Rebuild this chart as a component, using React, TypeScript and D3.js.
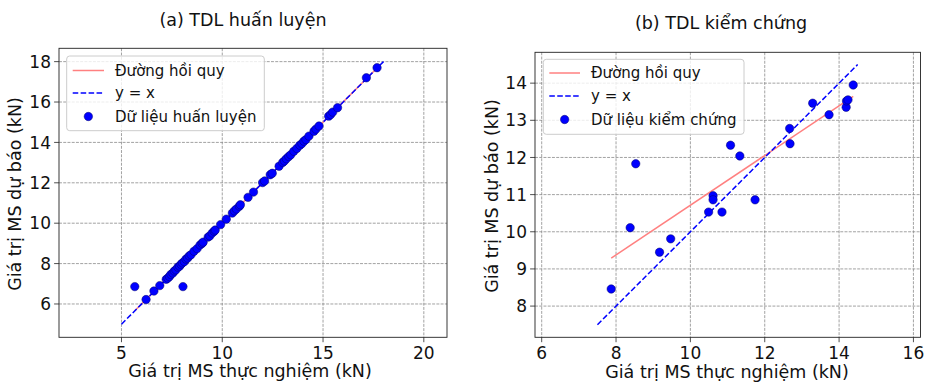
import React from "react";
import * as d3 from "d3";

// ---------- data ----------
const trainActual = [
  5.66, 6.22, 6.61, 6.9, 7.22, 7.3, 7.38, 7.45, 7.55, 7.62, 7.7, 7.8, 7.88, 7.95, 8.05,
  8.02, 8.12, 8.2, 8.28, 8.36, 8.45, 8.6, 8.75, 8.9, 9.0, 9.05, 9.3, 9.38, 9.5, 9.6,
  9.65, 9.92, 10.2, 10.5, 10.6, 10.7, 10.85, 10.9, 11.28, 11.55, 12.0, 12.1, 12.38,
  12.48, 12.82, 13.0, 13.08, 13.18, 13.3, 13.4, 13.55, 13.7, 13.85, 13.95, 14.05,
  14.15, 14.3, 14.55, 14.65, 14.8, 15.28, 15.38, 15.48, 15.72, 17.15, 17.68,
];
const trainPredicted = [
  6.86, 6.22, 6.64, 6.91, 7.22, 7.28, 7.36, 7.46, 7.53, 7.63, 7.69, 7.82, 7.87, 7.96, 6.86,
  8.03, 8.1, 8.22, 8.27, 8.38, 8.44, 8.61, 8.74, 8.92, 9.0, 9.06, 9.31, 9.37, 9.51, 9.6,
  9.66, 9.93, 10.2, 10.5, 10.61, 10.7, 10.84, 10.91, 11.28, 11.54, 12.01, 12.09, 12.4,
  12.47, 12.82, 13.01, 13.08, 13.19, 13.3, 13.39, 13.56, 13.7, 13.86, 13.94, 14.06,
  14.14, 14.31, 14.55, 14.66, 14.81, 15.3, 15.38, 15.5, 15.72, 17.2, 17.7,
];
const testActual = [
  7.87, 8.38, 8.53, 9.17, 9.47, 10.49, 10.61, 10.61, 10.85, 11.08, 11.33, 11.74,
  12.67, 12.68, 13.29, 13.73, 14.19, 14.2, 14.24, 14.38,
];
const testPredicted = [
  8.46, 10.11, 11.83, 9.45, 9.81, 10.53, 10.97, 10.86, 10.53, 12.33, 12.04, 10.86,
  12.78, 12.37, 13.46, 13.15, 13.35, 13.52, 13.55, 13.95,
];
// regression coefficients [slope, intercept]
const trainFit = [1.0, 0.0];
const testFit = [0.669, 4.025];
// y = x line extents
const trainIdentity = [5, 18];
const testIdentity = [7.5, 14.5];
// ticks
const trainXTicks = [5, 10, 15, 20];
const trainYTicks = [6, 8, 10, 12, 14, 16, 18];
const testXTicks = [6, 8, 10, 12, 14, 16];
const testYTicks = [8, 9, 10, 11, 12, 13, 14];
// texts
const titles = ["(a) TDL huấn luyện", "(b) TDL kiểm chứng"];
const legendLabels = ["Đường hồi quy", "y = x"];
const scatterLabels = ["Dữ liệu huấn luyện", "Dữ liệu kiểm chứng"];
const xLabel = "Giá trị MS thực nghiệm (kN)";
const yLabel = "Giá trị MS dự báo (kN)";

const FONT = "DejaVu Sans, Verdana, sans-serif";
const RED = "#ff8080";
const BLUE = "#0000ff";

type PanelProps = {
  box: { left: number; right: number; top: number; bottom: number };
  xDomain: [number, number];
  yDomain: [number, number];
  xTicks: number[];
  yTicks: number[];
  xs: number[];
  ys: number[];
  fit: number[];
  identity: number[];
  title: string;
  titlePos: [number, number];
  xLabelPos: [number, number];
  yLabelPos: [number, number];
  scatterLabel: string;
  legend: { x: number; y: number; w: number; h: number; rows: number[]; handle: [number, number]; textX: number };
  clipId: string;
};

function Panel(p: PanelProps) {
  const { box } = p;
  const x = d3.scaleLinear().domain(p.xDomain).range([box.left, box.right]);
  const y = d3.scaleLinear().domain(p.yDomain).range([box.bottom, box.top]);
  const line = d3
    .line<number[]>()
    .x((d) => x(d[0]))
    .y((d) => y(d[1]));
  const xmin = d3.min(p.xs) as number;
  const xmax = d3.max(p.xs) as number;
  const fitPts = [xmin, xmax].map((v) => [v, p.fit[0] * v + p.fit[1]]);
  const idPts = p.identity.map((v) => [v, v]);
  const lg = p.legend;
  return (
    <g>
      <defs>
        <clipPath id={p.clipId}>
          <rect x={box.left} y={box.top} width={box.right - box.left} height={box.bottom - box.top} />
        </clipPath>
      </defs>
      <rect x={box.left} y={box.top} width={box.right - box.left} height={box.bottom - box.top} fill="white" />
      {/* grid */}
      <g stroke="#7f7f7f" strokeWidth={0.8} strokeDasharray="2.96,1.28" opacity={0.9}>
        {p.xTicks.map((t) => (
          <line key={"gx" + t} x1={x(t)} x2={x(t)} y1={box.top} y2={box.bottom} />
        ))}
        {p.yTicks.map((t) => (
          <line key={"gy" + t} x1={box.left} x2={box.right} y1={y(t)} y2={y(t)} />
        ))}
      </g>
      <g clipPath={`url(#${p.clipId})`}>
        <path d={line(fitPts) || ""} stroke={RED} strokeWidth={1.5} fill="none" />
        <path d={line(idPts) || ""} stroke={BLUE} strokeWidth={1.5} strokeDasharray="5.55,2.4" fill="none" />
        {p.xs.map((v, i) => (
          <circle key={i} cx={x(v)} cy={y(p.ys[i])} r={4.2} fill={BLUE} stroke="#00006a" strokeWidth={0.5} />
        ))}
      </g>
      {/* frame */}
      <rect
        x={box.left}
        y={box.top}
        width={box.right - box.left}
        height={box.bottom - box.top}
        fill="none"
        stroke="#222"
        strokeWidth={0.9}
      />
      {/* ticks */}
      <g fontFamily={FONT} fontSize={17} fill="#111">
        {p.xTicks.map((t) => (
          <g key={"tx" + t}>
            <line x1={x(t)} x2={x(t)} y1={box.bottom} y2={box.bottom + 4.9} stroke="#222" strokeWidth={0.8} />
            <text x={x(t)} y={box.bottom + 21.5} textAnchor="middle">
              {t}
            </text>
          </g>
        ))}
        {p.yTicks.map((t) => (
          <g key={"ty" + t}>
            <line x1={box.left - 4.9} x2={box.left} y1={y(t)} y2={y(t)} stroke="#222" strokeWidth={0.8} />
            <text x={box.left - 8} y={y(t) + 6.1} textAnchor="end">
              {t}
            </text>
          </g>
        ))}
      </g>
      {/* labels */}
      <text x={p.titlePos[0]} y={p.titlePos[1]} textAnchor="middle" fontFamily={FONT} fontSize={17.5} fill="#111">
        {p.title}
      </text>
      <text x={p.xLabelPos[0]} y={p.xLabelPos[1]} textAnchor="middle" fontFamily={FONT} fontSize={17.5} fill="#111">
        {xLabel}
      </text>
      <text
        transform={`translate(${p.yLabelPos[0]},${p.yLabelPos[1]}) rotate(-90)`}
        textAnchor="middle"
        fontFamily={FONT}
        fontSize={17.5}
        fill="#111"
      >
        {yLabel}
      </text>
      {/* legend */}
      <g>
        <rect x={lg.x} y={lg.y} width={lg.w} height={lg.h} rx={3} fill="white" fillOpacity={0.8} stroke="#cccccc" strokeWidth={1} />
        <line x1={lg.handle[0]} x2={lg.handle[1]} y1={lg.rows[0]} y2={lg.rows[0]} stroke={RED} strokeWidth={1.5} />
        <line
          x1={lg.handle[0]}
          x2={lg.handle[1]}
          y1={lg.rows[1]}
          y2={lg.rows[1]}
          stroke={BLUE}
          strokeWidth={1.5}
          strokeDasharray="5.55,2.4"
        />
        <circle cx={(lg.handle[0] + lg.handle[1]) / 2} cy={lg.rows[2]} r={4.2} fill={BLUE} stroke="#00006a" strokeWidth={0.5} />
        {[legendLabels[0], legendLabels[1], p.scatterLabel].map((s, i) => (
          <text key={s} x={lg.textX} y={lg.rows[i] + 5.4} fontFamily={FONT} fontSize={15} fill="#111">
            {s}
          </text>
        ))}
      </g>
    </g>
  );
}

export default function App() {
  return (
    <svg
      width={925}
      height={382}
      viewBox="0 0 925 382"
      style={{ position: "absolute", left: 0, top: 0, display: "block", background: "white" }}
    >
      <rect width={925} height={382} fill="white" />
      <Panel
        box={{ left: 59, right: 447, top: 48.3, bottom: 337.3 }}
        xDomain={[1.9, 21.15]}
        yDomain={[4.35, 18.66]}
        xTicks={trainXTicks}
        yTicks={trainYTicks}
        xs={trainActual}
        ys={trainPredicted}
        fit={trainFit}
        identity={trainIdentity}
        title={titles[0]}
        titlePos={[243, 25.5]}
        xLabelPos={[250, 377]}
        yLabelPos={[20.5, 194]}
        scatterLabel={scatterLabels[0]}
        legend={{ x: 66.7, y: 56, w: 197.6, h: 74.7, rows: [70.5, 93, 116.5], handle: [72.7, 104], textX: 115 }}
        clipId="clipA"
      />
      <Panel
        box={{ left: 535, right: 920.5, top: 52.3, bottom: 337.3 }}
        xDomain={[5.82, 16.19]}
        yDomain={[7.16, 14.83]}
        xTicks={testXTicks}
        yTicks={testYTicks}
        xs={testActual}
        ys={testPredicted}
        fit={testFit}
        identity={testIdentity}
        title={titles[1]}
        titlePos={[721, 29]}
        xLabelPos={[727, 378]}
        yLabelPos={[497.5, 196]}
        scatterLabel={scatterLabels[1]}
        legend={{ x: 543.3, y: 59.3, w: 200.7, h: 75, rows: [73, 96, 119.5], handle: [549.3, 580], textX: 591 }}
        clipId="clipB"
      />
    </svg>
  );
}
